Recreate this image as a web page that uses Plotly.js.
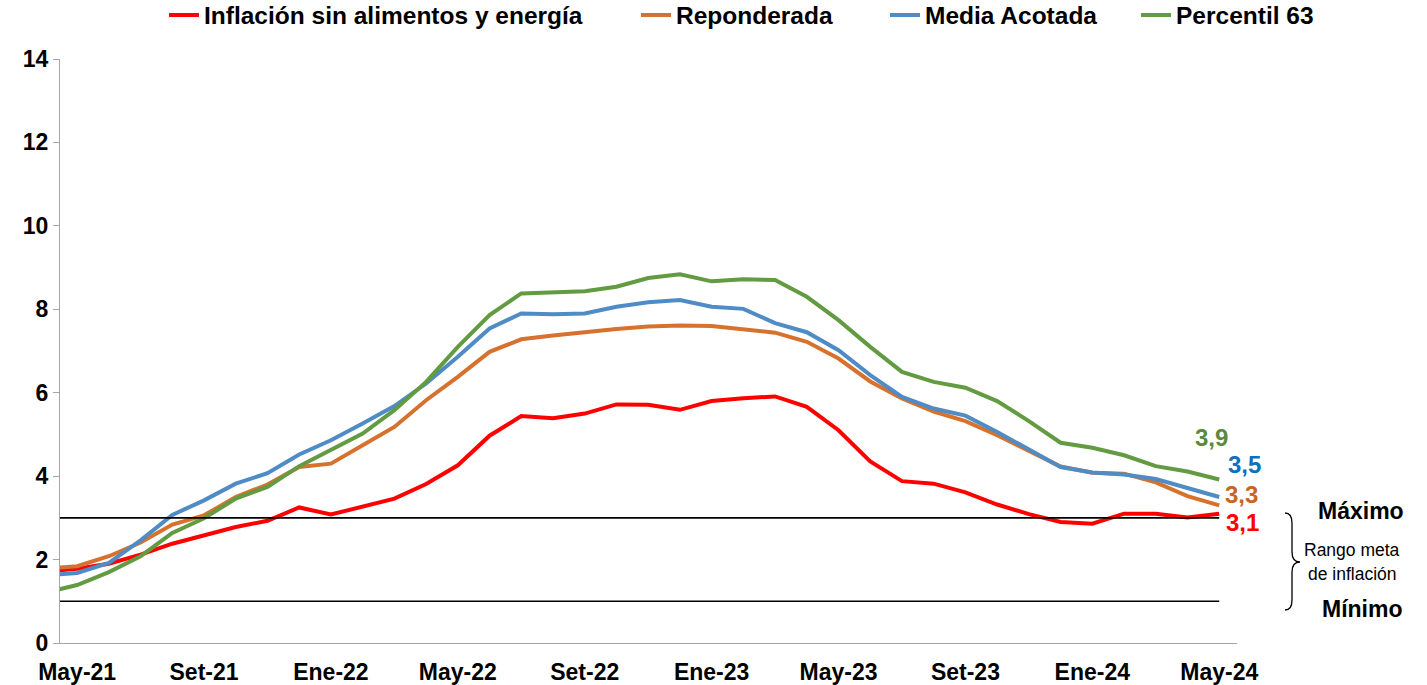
<!DOCTYPE html>
<html>
<head>
<meta charset="utf-8">
<script src="https://cdn.plot.ly/plotly-3.0.1.min.js"></script>
<style>html,body{margin:0;padding:0;background:#fff;}#chart{width:1427px;height:685px;}</style>
</head>
<body>
<div id="chart"></div>
<script>
// Months (Abr-21 is only partly visible at the left edge)
const months = ["Abr-21","May-21","Jun-21","Jul-21","Ago-21","Set-21","Oct-21","Nov-21","Dic-21",
  "Ene-22","Feb-22","Mar-22","Abr-22","May-22","Jun-22","Jul-22","Ago-22","Set-22","Oct-22","Nov-22","Dic-22",
  "Ene-23","Feb-23","Mar-23","Abr-23","May-23","Jun-23","Jul-23","Ago-23","Set-23","Oct-23","Nov-23","Dic-23",
  "Ene-24","Feb-24","Mar-24","Abr-24","May-24"];
const tickLabels = ["May-21","Set-21","Ene-22","May-22","Set-22","Ene-23","May-23","Set-23","Ene-24","May-24"];

const sinAlimentosEnergia = [1.71,1.78,1.90,2.12,2.38,2.58,2.78,2.93,3.25,
  3.08,3.26,3.46,3.81,4.26,4.97,5.44,5.39,5.50,5.72,5.71,5.59,
  5.80,5.87,5.91,5.66,5.10,4.35,3.88,3.82,3.61,3.32,3.09,2.90,
  2.86,3.10,3.10,3.01,3.10];
const reponderada = [1.78,1.84,2.08,2.41,2.84,3.06,3.50,3.80,4.22,
  4.30,4.74,5.18,5.82,6.38,6.98,7.28,7.37,7.46,7.53,7.59,7.61,
  7.60,7.52,7.44,7.22,6.82,6.27,5.86,5.55,5.32,4.98,4.60,4.23,
  4.08,4.06,3.85,3.52,3.30];
const mediaAcotada = [1.62,1.68,1.92,2.46,3.07,3.42,3.82,4.07,4.52,
  4.86,5.26,5.68,6.22,6.86,7.54,7.90,7.88,7.90,8.06,8.17,8.22,
  8.06,8.01,7.67,7.45,7.02,6.42,5.90,5.62,5.45,5.06,4.64,4.22,
  4.09,4.04,3.93,3.72,3.50];
const percentil63 = [1.21,1.39,1.70,2.08,2.64,2.99,3.46,3.74,4.24,
  4.62,5.02,5.58,6.26,7.10,7.86,8.38,8.40,8.43,8.54,8.75,8.84,
  8.67,8.72,8.70,8.30,7.74,7.10,6.50,6.26,6.12,5.80,5.32,4.80,
  4.68,4.50,4.24,4.11,3.92];

const seriesNames = ["Inflación sin alimentos y energía","Reponderada","Media Acotada","Percentil 63"];
const seriesValues = [sinAlimentosEnergia, reponderada, mediaAcotada, percentil63];
const lineColors = ["#FF0000","#D6722E","#4F8BC4","#629B41"];
const labelColors = ["#FF0000","#C8651F","#0A70C0","#5B8A3A"];

const rangoMax = 3;
const rangoMin = 1;

const FONT = "Liberation Sans, Arial, sans-serif";
// x index: May-21 = 0
const xIdx = months.map((m,i)=>i-1);
const tickVals = tickLabels.map(t=>months.indexOf(t)-1);
const lastX = xIdx[xIdx.length-1];

// layout geometry helpers (decorations only)
const L = 60, R = 190, T = 59, B = 42, W = 1427, H = 685;
const pw = W - L - R, ph = H - T - B;
const yMax = 14;
const px2paper = px => (px - L) / pw;
const py2y = py => (H - B - py) / ph * yMax;
const py2paper = py => (H - B - py) / ph;

const legendIds = ["legend","legend2","legend3","legend4"];
const legendTextPx = [205, 677, 926, 1177];

const traces = seriesNames.map((n,k)=>({
  x: xIdx, y: seriesValues[k], name: n, type: "scatter", mode: "lines",
  line: {color: lineColors[k], width: 4}, hoverinfo: "skip", legend: legendIds[k]
}));

const xRange = [-0.54, 36.56];

const shapes = [rangoMax, rangoMin].map(v=>({
  type: "line", xref: "x", yref: "y", x0: xRange[0], x1: lastX, y0: v, y1: v,
  line: {color: "#000", width: 1.6}
}));
// brace
const bx0 = px2paper(1285), bx1 = px2paper(1292), bx2 = px2paper(1300);
const yt = py2y(513), yb = py2y(610), ym = py2y(562), d1 = py2y(513) - py2y(523);
shapes.push({
  type: "path", xref: "paper", yref: "y", line: {color: "#000", width: 1.3},
  path: `M ${bx0},${yt} Q ${bx1},${yt} ${bx1},${yt-d1} L ${bx1},${ym+d1} Q ${bx1},${ym} ${bx2},${ym} Q ${bx1},${ym} ${bx1},${ym-d1} L ${bx1},${yb+d1} Q ${bx1},${yb} ${bx0},${yb}`
});

const endShift = [[23,-9],[22,11],[25,33],[-8,42]];
const annotations = seriesValues.map((arr,k)=>({
  x: lastX, y: arr[arr.length-1], xref: "x", yref: "y", xanchor: "center", yanchor: "middle",
  text: arr[arr.length-1].toFixed(1).replace(".", ","),
  showarrow: false, xshift: endShift[k][0], yshift: endShift[k][1],
  font: {family: FONT, size: 24, color: labelColors[k], weight: 700}
}));
annotations.push(
  {xref:"paper", yref:"y", x: px2paper(1361), y: py2y(511), text:"Máximo", showarrow:false, xanchor:"center",
   font:{family:FONT,size:23,color:"#000",weight:700}},
  {xref:"paper", yref:"y", x: px2paper(1352), y: py2y(550), text:"Rango meta", showarrow:false, xanchor:"center",
   font:{family:FONT,size:17.5,color:"#000"}},
  {xref:"paper", yref:"y", x: px2paper(1352), y: py2y(574), text:"de inflación", showarrow:false, xanchor:"center",
   font:{family:FONT,size:17.5,color:"#000"}},
  {xref:"paper", yref:"y", x: px2paper(1362), y: py2y(609), text:"Mínimo", showarrow:false, xanchor:"center",
   font:{family:FONT,size:23,color:"#000",weight:700}}
);

const layout = {
  width: W, height: H,
  margin: {l: L, r: R, t: T, b: B, autoexpand: false},
  paper_bgcolor: "#fff", plot_bgcolor: "#fff",
  font: {family: FONT, color: "#000"},
  showlegend: true,
  xaxis: {
    range: xRange, tickmode: "array", tickvals: tickVals, ticktext: tickLabels,
    showgrid: false, zeroline: false, showline: true, linecolor: "#A6A6A6", linewidth: 1,
    ticks: "", ticklabelstandoff: 8,
    tickfont: {family: FONT, size: 23, color: "#000", weight: 700}
  },
  yaxis: {
    range: [0, yMax], dtick: 2, tick0: 0,
    showgrid: false, zeroline: false, showline: true, linecolor: "#A6A6A6", linewidth: 1,
    ticks: "outside", ticklen: 6, tickcolor: "#A6A6A6",
    tickfont: {family: FONT, size: 23, color: "#000", weight: 700}
  },
  shapes: shapes,
  annotations: annotations
};
legendIds.forEach((id,k)=>{
  layout[id] = {
    orientation: "h", x: px2paper(legendTextPx[k] - 41), xanchor: "left",
    y: py2paper(15), yanchor: "middle",
    font: {family: FONT, size: 24.5, color: "#000", weight: 700},
    bgcolor: "rgba(0,0,0,0)", borderwidth: 0
  };
});

Plotly.newPlot("chart", traces, layout, {displayModeBar: false, staticPlot: true});
</script>
</body>
</html>
